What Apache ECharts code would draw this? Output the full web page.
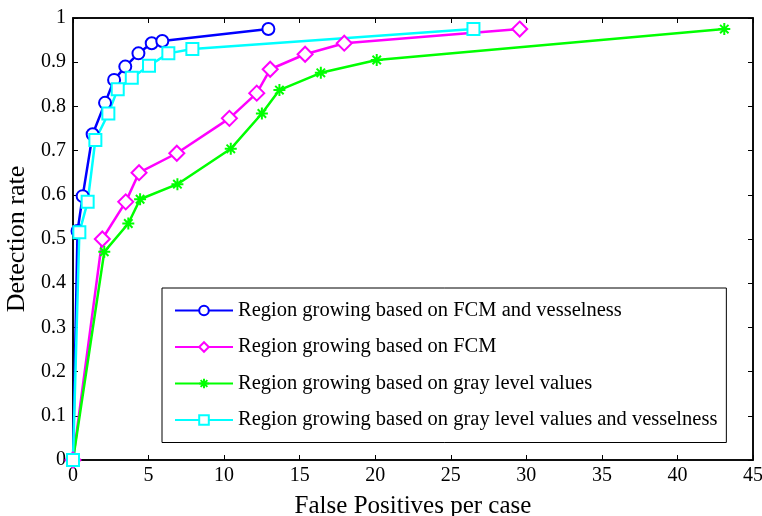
<!DOCTYPE html>
<html>
<head>
<meta charset="utf-8">
<script src="https://cdn.jsdelivr.net/npm/echarts@6/dist/echarts.min.js"></script>
<style>
  html, body { margin: 0; padding: 0; background: #fff; }
  #chart { width: 762px; height: 516px; }
</style>
</head>
<body>
<div id="chart"></div>
<script>
// false positives per case (x) / detection rate (y)
const fcmVesselX = [0, 0.3, 0.64, 1.3, 2.12, 2.72, 3.46, 4.33, 5.21, 5.91, 12.93];
const fcmVesselY = [0, 0.518, 0.597, 0.737, 0.808, 0.86, 0.89, 0.92, 0.943, 0.948, 0.975];

const fcmX = [0, 1.94, 3.49, 4.37, 6.87, 10.35, 12.16, 13.05, 15.36, 17.95, 29.56];
const fcmY = [0, 0.5, 0.584, 0.65, 0.694, 0.773, 0.83, 0.884, 0.918, 0.943, 0.975];

const grayX = [0, 2.07, 3.66, 4.44, 6.91, 10.44, 12.5, 13.66, 16.4, 20.1, 43.1];
const grayY = [0, 0.471, 0.535, 0.59, 0.624, 0.704, 0.784, 0.837, 0.876, 0.905, 0.975];

const grayVesselX = [0, 0.42, 0.97, 1.48, 2.34, 2.96, 3.89, 5.03, 6.31, 7.9, 26.5];
const grayVesselY = [0, 0.515, 0.584, 0.724, 0.784, 0.839, 0.865, 0.892, 0.92, 0.93, 0.975];

const seriesNames = [
  'Region growing based on FCM and vesselness',
  'Region growing based on FCM',
  'Region growing based on gray level values',
  'Region growing based on gray level values and vesselness'
];

const font = 'Liberation Serif, Times New Roman, serif';
const star = 'path://M0,-6L0,6M-6,0L6,0M-4.2,-4.2L4.2,4.2M-4.2,4.2L4.2,-4.2';

function pairs(xs, ys) {
  return xs.map((x, i) => [x, ys[i]]);
}

function lineSeries(name, xs, ys, color, symbol, size) {
  return {
    name: name,
    type: 'line',
    data: pairs(xs, ys),
    symbol: symbol,
    symbolSize: size,
    showAllSymbol: true,
    lineStyle: { color: color, width: 2.5 },
    itemStyle: { color: symbol === star ? color : '#fff', borderColor: color, borderWidth: 2 },
    emphasis: { disabled: true },
    animation: false
  };
}

const chart = echarts.init(document.getElementById('chart'));

const tickCommon = { show: true, inside: true, length: 5, lineStyle: { color: '#000', width: 1 } };
const lineCommon = { show: true, onZero: false, lineStyle: { color: '#000', width: 1.5 } };

chart.setOption({
  backgroundColor: '#fff',
  grid: {
    left: 73, right: 9, top: 18, bottom: 56,
    outerBoundsMode: 'none',
    show: true, borderColor: '#000', borderWidth: 1.5
  },
  legend: {
    orient: 'vertical',
    left: 162,
    top: 288,
    padding: [12, 9, 12, 12],
    itemWidth: 58,
    itemHeight: 12,
    itemGap: 15.5,
    borderColor: '#000',
    borderWidth: 1,
    backgroundColor: '#fff',
    textStyle: { fontFamily: font, fontSize: 20.5, color: '#000' },
    data: seriesNames
  },
  xAxis: [
    {
      type: 'value',
      min: 0, max: 45, interval: 5,
      name: 'False Positives per case',
      nameLocation: 'middle',
      nameGap: 34,
      nameTextStyle: { fontFamily: font, fontSize: 25, color: '#000' },
      axisLine: lineCommon,
      axisTick: tickCommon,
      axisLabel: { fontFamily: font, fontSize: 20, color: '#000', margin: 6 },
      splitLine: { show: false }
    },
    {
      type: 'value', position: 'top',
      min: 0, max: 45, interval: 5,
      axisLine: lineCommon,
      axisTick: tickCommon,
      axisLabel: { show: false },
      splitLine: { show: false }
    }
  ],
  yAxis: [
    {
      type: 'value',
      min: 0, max: 1, interval: 0.1,
      name: 'Detection rate',
      nameLocation: 'middle',
      nameGap: 37,
      nameTextStyle: { fontFamily: font, fontSize: 26, color: '#000' },
      axisLine: lineCommon,
      axisTick: tickCommon,
      axisLabel: {
        fontFamily: font, fontSize: 20, color: '#000', margin: 7,
        formatter: v => String(Math.round(v * 10) / 10)
      },
      splitLine: { show: false }
    },
    {
      type: 'value', position: 'right',
      min: 0, max: 1, interval: 0.1,
      axisLine: lineCommon,
      axisTick: tickCommon,
      axisLabel: { show: false },
      splitLine: { show: false }
    }
  ],
  series: [
    lineSeries(seriesNames[0], fcmVesselX, fcmVesselY, '#0000ff', 'circle', 12),
    lineSeries(seriesNames[1], fcmX, fcmY, '#ff00ff', 'diamond', 15),
    lineSeries(seriesNames[2], grayX, grayY, '#00ff00', star, 12),
    lineSeries(seriesNames[3], grayVesselX, grayVesselY, '#00ffff', 'rect', 12)
  ]
});
</script>
</body>
</html>
